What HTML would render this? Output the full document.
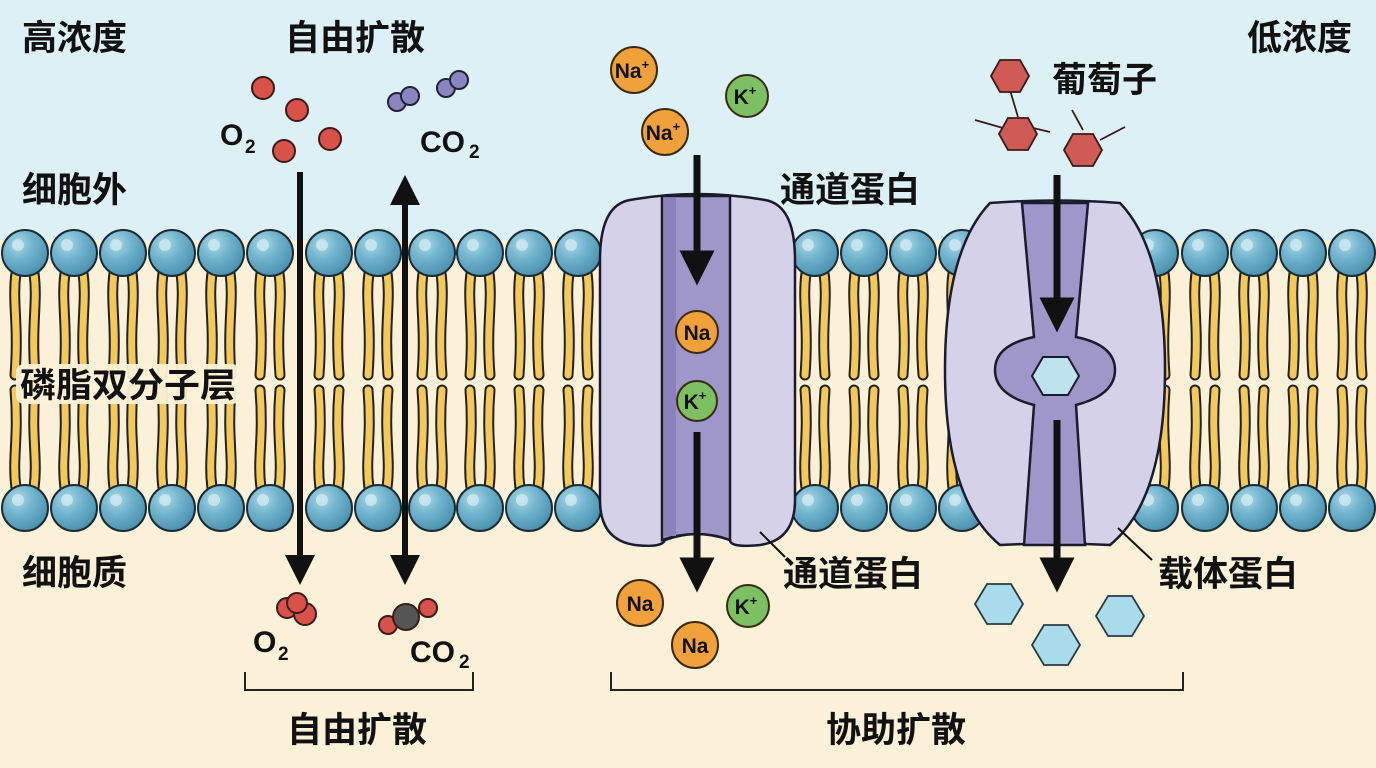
<!DOCTYPE html>
<html><head><meta charset="utf-8"><style>
html,body{margin:0;padding:0;width:1376px;height:768px;overflow:hidden}
svg{display:block}
text{font-family:"Liberation Sans","Noto Sans CJK SC",sans-serif;font-weight:bold;fill:#111}
</style></head><body>
<svg width="1376" height="768" viewBox="0 0 1376 768" xmlns="http://www.w3.org/2000/svg">
<defs>
<radialGradient id="hg" cx="0.35" cy="0.3" r="0.7"><stop offset="0" stop-color="#a9d7e6"/><stop offset="0.5" stop-color="#6fb2cc"/><stop offset="1" stop-color="#4d93b0"/></radialGradient>
<g id="lipT">
<path d="M-9,20 C-13,50 -6,70 -10,122" stroke="#222" stroke-width="11" fill="none" stroke-linecap="round"/>
<path d="M-9,20 C-13,50 -6,70 -10,122" stroke="#f3c95c" stroke-width="7" fill="none" stroke-linecap="round"/>
<path d="M9,20 C13,50 6,70 10,122" stroke="#222" stroke-width="11" fill="none" stroke-linecap="round"/>
<path d="M9,20 C13,50 6,70 10,122" stroke="#f3c95c" stroke-width="7" fill="none" stroke-linecap="round"/>
<circle r="23" fill="url(#hg)" stroke="#1c2a33" stroke-width="2"/>
<circle cx="-7" cy="-8" r="6" fill="#cfeaf3" opacity="0.8"/>
</g>
<g id="lipB">
<path d="M-9,-20 C-13,-50 -6,-70 -10,-118" stroke="#222" stroke-width="11" fill="none" stroke-linecap="round"/>
<path d="M-9,-20 C-13,-50 -6,-70 -10,-118" stroke="#f3c95c" stroke-width="7" fill="none" stroke-linecap="round"/>
<path d="M9,-20 C13,-50 6,-70 10,-118" stroke="#222" stroke-width="11" fill="none" stroke-linecap="round"/>
<path d="M9,-20 C13,-50 6,-70 10,-118" stroke="#f3c95c" stroke-width="7" fill="none" stroke-linecap="round"/>
<circle r="23" fill="url(#hg)" stroke="#1c2a33" stroke-width="2"/>
<circle cx="-7" cy="-8" r="6" fill="#cfeaf3" opacity="0.8"/>
</g>
<marker id="ar" viewBox="0 0 10 10" refX="5" refY="5" markerWidth="5" markerHeight="5" orient="auto-start-reverse"><path d="M0,0 L10,5 L0,10 z" fill="#111"/></marker>
</defs>
<rect width="1376" height="768" fill="#fbf1d8"/>
<rect width="1376" height="240" fill="#dcf0f6"/>

<g>
<use href="#lipT" x="25" y="253"/><use href="#lipT" x="74" y="253"/><use href="#lipT" x="123" y="253"/><use href="#lipT" x="172" y="253"/><use href="#lipT" x="221" y="253"/><use href="#lipT" x="270" y="253"/><use href="#lipT" x="329" y="253"/><use href="#lipT" x="378" y="253"/><use href="#lipT" x="432" y="253"/><use href="#lipT" x="480" y="253"/><use href="#lipT" x="529" y="253"/><use href="#lipT" x="578" y="253"/>
<use href="#lipT" x="815" y="253"/><use href="#lipT" x="864" y="253"/><use href="#lipT" x="913" y="253"/><use href="#lipT" x="962" y="253"/>
<use href="#lipT" x="1155" y="253"/><use href="#lipT" x="1205" y="253"/><use href="#lipT" x="1254" y="253"/><use href="#lipT" x="1303" y="253"/><use href="#lipT" x="1352" y="253"/>
<use href="#lipB" x="25" y="508"/><use href="#lipB" x="74" y="508"/><use href="#lipB" x="123" y="508"/><use href="#lipB" x="172" y="508"/><use href="#lipB" x="221" y="508"/><use href="#lipB" x="270" y="508"/><use href="#lipB" x="329" y="508"/><use href="#lipB" x="378" y="508"/><use href="#lipB" x="432" y="508"/><use href="#lipB" x="480" y="508"/><use href="#lipB" x="529" y="508"/><use href="#lipB" x="578" y="508"/>
<use href="#lipB" x="815" y="508"/><use href="#lipB" x="864" y="508"/><use href="#lipB" x="913" y="508"/><use href="#lipB" x="962" y="508"/>
<use href="#lipB" x="1155" y="508"/><use href="#lipB" x="1205" y="508"/><use href="#lipB" x="1254" y="508"/><use href="#lipB" x="1303" y="508"/><use href="#lipB" x="1352" y="508"/>
</g>

<rect x="16" y="364" width="224" height="40" rx="8" fill="#fbf1d8" opacity="0.95"/>
<text x="20" y="397" font-size="34" textLength="216" lengthAdjust="spacingAndGlyphs">磷脂双分子层</text>

<path d="M630,200 Q697,188 765,200 Q795,205 795,260 L795,500 Q795,540 760,545 Q730,548 730,540 Q697,528 665,540 Q662,548 635,545 Q600,540 600,500 L600,260 Q600,205 630,200 Z" fill="#d5d1e8" stroke="#1b1b2e" stroke-width="2.5"/>
<path d="M662,196 L730,196 L730,540 Q697,528 662,540 Z" fill="#9f96c9" stroke="#1b1b2e" stroke-width="2.5"/>
<rect x="664" y="198" width="12" height="338" fill="#8b81bb"/>
<line x1="697" y1="155" x2="697" y2="268" stroke="#111" stroke-width="7" marker-end="url(#ar)"/>
<line x1="697" y1="432" x2="697" y2="575" stroke="#111" stroke-width="7" marker-end="url(#ar)"/>

<path d="M990,203 Q1055,198 1120,203 Q1165,250 1165,370 Q1165,500 1110,545 Q1055,542 1000,545 Q945,500 945,370 Q945,250 990,203 Z" fill="#d5d1e8" stroke="#1b1b2e" stroke-width="2.5"/>
<path d="M1022,203 L1088,203 L1076,337 Q1115,345 1115,370 Q1115,395 1076,405 L1085,545 L1024,545 L1034,405 Q995,395 995,370 Q995,345 1034,337 Z" fill="#9f96c9" stroke="#1b1b2e" stroke-width="2.5"/>
<polygon points="1032,376 1043,357 1068,357 1079,376 1068,395 1043,395" fill="#bfe3ee" stroke="#1b1b2e" stroke-width="2"/>
<line x1="1057" y1="175" x2="1057" y2="315" stroke="#111" stroke-width="7" marker-end="url(#ar)"/>
<line x1="1057" y1="420" x2="1057" y2="575" stroke="#111" stroke-width="7" marker-end="url(#ar)"/>

<line x1="300" y1="172" x2="300" y2="570" stroke="#111" stroke-width="6" marker-end="url(#ar)"/>
<line x1="405" y1="190" x2="405" y2="570" stroke="#111" stroke-width="6" marker-start="url(#ar)" marker-end="url(#ar)"/>

<g fill="#d9524a" stroke="#3a1a1a" stroke-width="2">
<circle cx="263" cy="88" r="11"/><circle cx="297" cy="110" r="11"/><circle cx="330" cy="139" r="11"/><circle cx="284" cy="151" r="11"/>
</g>
<text x="220" y="145" font-size="30">O</text><text x="245" y="153" font-size="19">2</text>
<g fill="#8a86bf" stroke="#22223a" stroke-width="2">
<circle cx="397" cy="102" r="9"/><circle cx="410" cy="96" r="9"/><circle cx="446" cy="88" r="9"/><circle cx="459" cy="80" r="9"/>
</g>
<text x="420" y="152" font-size="30">CO</text><text x="469" y="158" font-size="19">2</text>

<g stroke="#3a1a1a" stroke-width="2">
<circle cx="287" cy="608" r="10" fill="#d9524a"/><circle cx="305" cy="614" r="11" fill="#d9524a"/><circle cx="297" cy="603" r="10" fill="#d9524a"/>
<circle cx="388" cy="625" r="9" fill="#d9524a"/><circle cx="428" cy="608" r="9" fill="#d9524a"/><circle cx="406" cy="617" r="13" fill="#555"/>
</g>
<text x="253" y="652" font-size="30">O</text><text x="278" y="660" font-size="19">2</text>
<text x="410" y="662" font-size="30">CO</text><text x="459" y="668" font-size="19">2</text>

<g stroke="#3a2a10" stroke-width="2">
<circle cx="634" cy="70" r="23" fill="#f0a13c"/><circle cx="665" cy="132" r="23" fill="#f0a13c"/>
<circle cx="747" cy="96" r="21" fill="#7cc063"/>
<circle cx="697" cy="332" r="21" fill="#f0a13c"/><circle cx="697" cy="401" r="20" fill="#7cc063"/>
<circle cx="640" cy="603" r="23" fill="#f0a13c"/><circle cx="695" cy="645" r="23" fill="#f0a13c"/><circle cx="748" cy="606" r="21" fill="#7cc063"/>
</g>
<g font-size="21" text-anchor="middle">
<text x="632" y="78">Na<tspan font-size="13" dy="-9">+</tspan></text>
<text x="663" y="140">Na<tspan font-size="13" dy="-9">+</tspan></text>
<text x="745" y="104">K<tspan font-size="13" dy="-9">+</tspan></text>
<text x="697" y="340">Na</text>
<text x="695" y="409">K<tspan font-size="13" dy="-9">+</tspan></text>
<text x="640" y="611">Na</text><text x="695" y="653">Na</text>
<text x="746" y="614">K<tspan font-size="13" dy="-9">+</tspan></text>
</g>

<g stroke="#3a1a1a" stroke-width="1.8">
<line x1="1010" y1="90" x2="1018" y2="117"/><line x1="975" y1="120" x2="1003" y2="128"/><line x1="1033" y1="128" x2="1050" y2="132"/>
<line x1="1072" y1="110" x2="1083" y2="130"/><line x1="1100" y1="140" x2="1125" y2="127"/>
<polygon points="991,76 1000,60 1020,60 1029,76 1020,92 1000,92" fill="#d05a55"/>
<polygon points="999,134 1008,118 1028,118 1037,134 1028,150 1008,150" fill="#d05a55"/>
<polygon points="1064,150 1073,134 1093,134 1102,150 1093,166 1073,166" fill="#d05a55"/>
</g>
<g fill="#a9dbea" stroke="#2a3a44" stroke-width="1.8">
<polygon points="975,604 987,584 1011,584 1023,604 1011,624 987,624"/>
<polygon points="1032,645 1044,625 1068,625 1080,645 1068,665 1044,665"/>
<polygon points="1096,616 1108,596 1132,596 1144,616 1132,636 1108,636"/>
</g>

<line x1="760" y1="532" x2="785" y2="557" stroke="#111" stroke-width="2"/>
<line x1="1118" y1="528" x2="1152" y2="560" stroke="#111" stroke-width="2"/>

<path d="M245,672 L245,690 L473,690 L473,672" fill="none" stroke="#222" stroke-width="2"/>
<path d="M611,672 L611,690 L1183,690 L1183,672" fill="none" stroke="#222" stroke-width="2"/>

<g font-size="35">
<text x="22" y="50">高浓度</text>
<text x="285" y="50">自由扩散</text>
<text x="1247" y="50">低浓度</text>
<text x="1052" y="92">葡萄子</text>
<text x="22" y="202">细胞外</text>
<text x="780" y="202">通道蛋白</text>
<text x="22" y="585">细胞质</text>
<text x="783" y="586">通道蛋白</text>
<text x="1158" y="586">载体蛋白</text>
<text x="287" y="742">自由扩散</text>
<text x="826" y="742">协助扩散</text>
</g>
</svg>
</body></html>
